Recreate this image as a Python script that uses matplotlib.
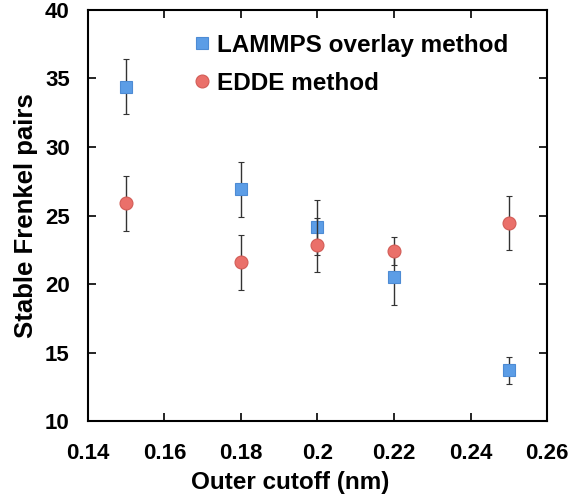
import matplotlib
matplotlib.use('Agg')
import matplotlib.pyplot as plt

plt.rcParams['font.family'] = ['Liberation Sans', 'DejaVu Sans']
plt.rcParams['font.weight'] = 'bold'

# data
cutoff = [0.15, 0.18, 0.20, 0.22, 0.25]
lammps = [34.4, 26.9, 24.15, 20.5, 13.7]
lammps_err = [2.0, 2.0, 2.0, 2.0, 1.0]
edde = [25.9, 21.6, 22.85, 22.4, 24.45]
edde_err = [2.0, 2.0, 2.0, 1.0, 2.0]

fig = plt.figure(figsize=(5.7, 4.96), dpi=100)
ax = fig.add_axes([0.154, 0.151, 0.806, 0.829])

ax.errorbar(cutoff, lammps, yerr=lammps_err, fmt='s', color='#5c9de6',
            mec='#4d8bd4', mew=0.8, ms=8.8, ecolor='#333333', elinewidth=1,
            capsize=2.5, capthick=1, label='LAMMPS overlay method', zorder=3)
ax.errorbar(cutoff, edde, yerr=edde_err, fmt='o', color='#ea706a',
            mec='#d25c56', mew=0.8, ms=9.3, ecolor='#333333', elinewidth=1,
            capsize=2.5, capthick=1, label='EDDE method', zorder=4)

ax.set_xlim(0.14, 0.26)
ax.set_ylim(10, 40)
ax.set_xticks([0.14, 0.16, 0.18, 0.2, 0.22, 0.24, 0.26])
ax.set_xticklabels(['0.14', '0.16', '0.18', '0.2', '0.22', '0.24', '0.26'])
ax.set_yticks([10, 15, 20, 25, 30, 35, 40])
ax.tick_params(direction='in', length=6, width=1.2, top=True, right=True,
               labelsize=16)
ax.tick_params(axis='x', pad=16)
ax.tick_params(axis='y', pad=13)
for lab in ax.get_xticklabels() + ax.get_yticklabels():
    lab.set_fontweight('bold')
for s in ax.spines.values():
    s.set_linewidth(1.5)

ax.set_xlabel('Outer cutoff (nm)', fontsize=17.5, fontweight='bold')
ax.xaxis.set_label_coords(0.44, -0.122)
ax.set_ylabel('Stable Frenkel pairs', fontsize=18.5, fontweight='bold', labelpad=5)

handles, labels = ax.get_legend_handles_labels()
handles = [h[0] for h in handles]
ax.legend(handles, labels, loc='upper left', bbox_to_anchor=(0.17, 0.995),
          frameon=False, handletextpad=0.0, handlelength=1.2,
          labelspacing=0.62, prop={'size': 17.5, 'weight': 'bold'})

fig.savefig('out.png', dpi=100)
